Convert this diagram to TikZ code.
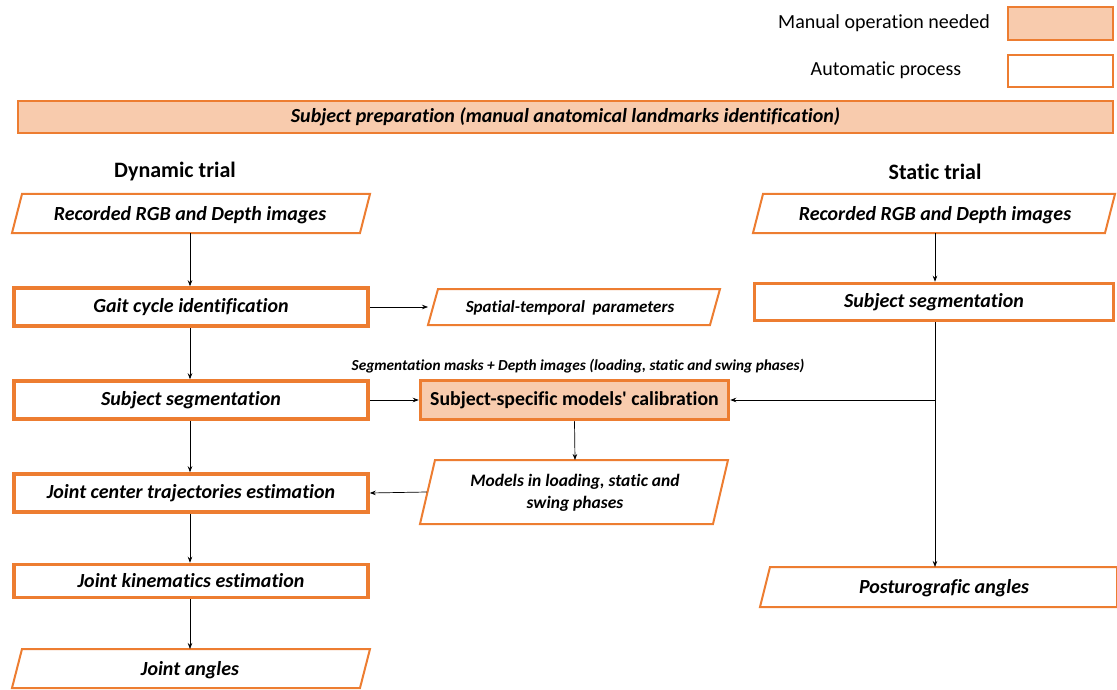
\documentclass[tikz,border=0pt]{standalone}
\usepackage{fontspec}
\setmainfont{Carlito}[Ligatures={NoCommon}]
\usetikzlibrary{arrows.meta}
\definecolor{org}{HTML}{ED7D31}
\definecolor{peach}{HTML}{F8CBAD}
\begin{document}
\begin{tikzpicture}[x=1pt,y=-1pt,
  txt/.style={font=\fontsize{20}{23}\selectfont\bfseries\itshape, inner sep=0pt, align=center},
  thickbox/.style={txt, draw=org, line width=3.5pt, fill=white},
  parabox/.style={txt, inner sep=0pt},
  paraline/.style={draw=org, line width=2pt, fill=white, line join=miter},
  conn/.style={line width=0.7pt, -{Stealth[length=6pt,width=4.5pt]}},
  legbox/.style={draw=org, line width=2pt}]
\useasboundingbox (0,0) rectangle (1117,690);

% legend
\node[font=\fontsize{20}{23}\selectfont, inner sep=0pt] (legm) at (884,23) {Manual operation needed};
\node[legbox, fill=peach, minimum width=105pt, minimum height=33pt, inner sep=0pt] (legmb) at (1060.5,23.5) {};
\node[font=\fontsize{20}{23}\selectfont, inner sep=0pt] (lega) at (886,70) {Automatic process};
\node[legbox, fill=white, minimum width=105pt, minimum height=32pt, inner sep=0pt] (legab) at (1060.5,71) {};

% banner
\node[txt, draw=org, line width=2pt, fill=peach, minimum width=1095pt, minimum height=32pt] (prep) at (565.5,117) {Subject preparation (manual anatomical landmarks identification)};

% headers
\node[font=\fontsize{22}{25}\selectfont\bfseries, inner sep=0pt] (dyn) at (175,172) {Dynamic trial};
\node[font=\fontsize{22}{25}\selectfont\bfseries, inner sep=0pt] (sta) at (935,172) {Static trial};

% parallelogram backgrounds
\path[paraline] (22,194) -- (370,194) -- (360,233) -- (12,233) -- cycle;
\path[paraline] (763,194) -- (1115,194) -- (1105,233) -- (753,233) -- cycle;
\path[paraline] (438,289) -- (720,289) -- (710,325) -- (428,325) -- cycle;
\path[paraline] (435,460) -- (728,460) -- (713,524) -- (420,524) -- cycle;
\path[paraline] (22,649) -- (370,649) -- (360,688) -- (12,688) -- cycle;
\path[paraline] (770,567) -- (1117,567) -- (1117,607) -- (760,607) -- cycle;

% dynamic column
\node[parabox] (drec) at (190,215) {Recorded RGB and Depth images};
\node[thickbox, minimum width=354pt, minimum height=38pt] (gait) at (191,307) {Gait cycle identification};
\node[thickbox, minimum width=354pt, minimum height=38pt] (dseg) at (191,400) {Subject segmentation};
\node[thickbox, minimum width=354pt, minimum height=38pt] (jct) at (191,493) {Joint center trajectories estimation};
\node[thickbox, minimum width=354pt, minimum height=33pt] (jke) at (191,581) {Joint kinematics estimation};
\node[parabox] (jang) at (190,670) {Joint angles};

% middle
\node[parabox, font=\fontsize{17}{20}\selectfont\bfseries\itshape] (stp) at (570,308) {Spatial-temporal\ \ parameters};
\node[font=\fontsize{15.3}{18}\selectfont\bfseries\itshape, inner sep=0pt] (seglab) at (578,366) {Segmentation masks + Depth images (loading, static and swing phases)};
\node[txt, font=\fontsize{19.8}{23}\selectfont\bfseries\addfontfeatures{Ligatures=TeXOff}, draw=org, line width=3.5pt, fill=peach, minimum width=308pt, minimum height=39pt] (calib) at (574.5,400) {Subject-specific models' calibration};
\node[parabox, font=\fontsize{17.5}{22}\selectfont\bfseries\itshape] (models) at (575,493) {Models in loading, static and\\swing phases};

% static column
\node[parabox] (srec) at (935,215) {Recorded RGB and Depth images};
\node[thickbox, minimum width=359pt, minimum height=37pt] (sseg) at (934,302) {Subject segmentation};
\node[parabox] (post) at (944,588) {Posturografic angles};

% connectors
\coordinate (dx) at (190,0);
\draw[conn] (190,233) -- (gait.north -| dx);
\draw[conn] (gait.south -| dx) -- (dseg.north -| dx);
\draw[conn] (dseg.south -| dx) -- (jct.north -| dx);
\draw[conn] (jct.south -| dx) -- (jke.north -| dx);
\draw[conn] (jke.south -| dx) -- (190,649);
\draw[conn] (gait.east) -- (428,307);
\draw[conn] (dseg.east) -- (calib.west);
\draw[conn] (calib.south) -- (575,460);
\draw[conn] (427,492) -- (jct.east);
\coordinate (sx) at (935,400);
\draw[conn] (935,233) -- (sseg.north -| sx);
\draw[conn] (sseg.south -| sx) -- (935,567);
\draw[conn] (sx) -- (calib.east);
\end{tikzpicture}
\end{document}
